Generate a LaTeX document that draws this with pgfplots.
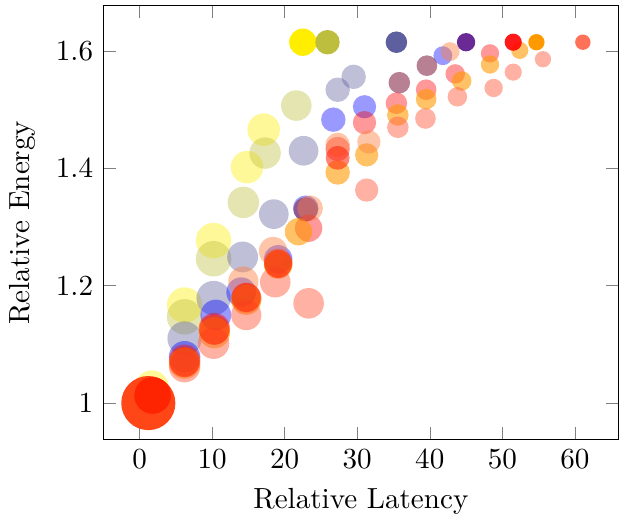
\documentclass[border=0pt]{standalone}
\usepackage{pgfplots}
\pgfplotsset{compat=1.18}
\usepackage{pgfplotstable}

\definecolor{cyel}{HTML}{FFEE00}
\definecolor{coli}{HTML}{BDBD3E}
\definecolor{cslate}{HTML}{5E5F9E}
\definecolor{cblue}{HTML}{0000FF}
\definecolor{cmauve}{HTML}{872D4B}
\definecolor{cpurple}{HTML}{6A2A95}
\definecolor{cred}{HTML}{FF0000}
\definecolor{cstrong}{HTML}{FF2000}
\definecolor{corange}{HTML}{FF9900}
\definecolor{csalmon}{HTML}{FF6347}
\definecolor{cpeach}{HTML}{FF7F3F}
\definecolor{cbig}{HTML}{FF4010}

% x y r  (r = bubble radius in pt)
\pgfplotstableread{
x y r
1.7 1.027 5.8
6.2 1.167 6.1
10.2 1.277 6.1
14.8 1.402 5.6
17.1 1.466 5.6
}\yellowdata
\pgfplotstableread{
x y r
1.7 1.016 5.8
6.2 1.147 6.1
10.2 1.246 6.1
14.3 1.342 5.4
17.3 1.426 5.4
21.6 1.507 5.25
}\olivedata
\pgfplotstableread{
x y r
1.5 1.008 5.8
6.2 1.110 5.9
10.2 1.179 5.9
14.2 1.249 5.3
18.5 1.322 5.1
22.6 1.430 5.1
27.3 1.534 4.2
29.5 1.556 4.2
}\slatedata
\pgfplotstableread{
x y r
6.2 1.079 5.4
10.5 1.150 5.3
14.0 1.189 5.1
19.1 1.245 4.9
22.9 1.332 4.4
26.7 1.483 4.2
31.0 1.505 4.0
41.8 1.592 3.25
}\bluedata
\pgfplotstableread{
x y r
22.9 1.330 4.2
35.8 1.546 3.7
39.6 1.575 3.55
}\mauvedata
\pgfplotstableread{
x y r
6.2 1.073 5.4
10.3 1.127 5.4
14.7 1.179 5.2
19.1 1.239 4.9
23.3 1.298 4.7
27.3 1.433 4.2
31.0 1.478 4.0
35.4 1.511 3.7
39.5 1.534 3.55
43.5 1.561 3.35
48.3 1.596 3.15
}\reddata
\pgfplotstableread{
x y r
6.2 1.070 5.2
10.3 1.125 5.2
14.7 1.180 5.0
19.1 1.237 4.8
27.3 1.418 4.1
}\strongdata
\pgfplotstableread{
x y r
6.2 1.068 5.4
10.3 1.120 5.4
14.7 1.176 5.2
19.1 1.236 4.9
21.9 1.292 4.7
27.3 1.393 4.2
31.3 1.423 4.0
35.6 1.491 3.7
39.5 1.518 3.55
44.4 1.549 3.35
48.3 1.577 3.15
52.4 1.601 2.95
}\orangedata
\pgfplotstableread{
x y r
6.2 1.062 5.4
10.2 1.102 5.4
14.7 1.150 5.2
18.7 1.206 5.25
23.3 1.170 5.25
31.3 1.363 4.0
35.6 1.470 3.7
39.4 1.485 3.55
43.8 1.522 3.35
48.8 1.537 3.15
51.5 1.564 2.95
55.6 1.586 2.8
}\salmondata
\pgfplotstableread{
x y r
14.3 1.207 5.2
18.4 1.259 4.9
23.5 1.332 4.4
27.3 1.440 4.2
31.6 1.445 4.0
42.8 1.599 3.25
}\peachdata

% bubble plot: fill colour and opacity per series, radius per point
\pgfplotsset{
  bubble/.style 2 args={
    scatter, only marks, mark=*,
    visualization depends on={\thisrow{r} \as \rad},
    scatter/@pre marker code/.code={%
      \scope[mark size=\rad pt, fill=#1, draw=#1, fill opacity=#2, draw opacity=0]%
    },
    scatter/@post marker code/.code={\endscope},
  },
}

\begin{document}
\begin{tikzpicture}
\begin{axis}[
  scale only axis,
  width=177pt, height=149pt,
  xmin=-5, xmax=66,
  ymin=0.938, ymax=1.677,
  xtick={0,10,...,60},
  ytick={1,1.2,1.4,1.6},
  xlabel={Relative Latency},
  ylabel={Relative Energy},
]
\addplot[bubble={cyel}{0.4}] table {\yellowdata};
\addplot[bubble={coli}{0.4}] table {\olivedata};
\addplot[bubble={cslate}{0.4}] table {\slatedata};
\addplot[bubble={cblue}{0.4}] table {\bluedata};
\addplot[bubble={cmauve}{0.6}] table {\mauvedata};
\addplot[bubble={cred}{0.4}] table {\reddata};
\addplot[bubble={corange}{0.6}] table {\orangedata};
\addplot[bubble={csalmon}{0.5}] table {\salmondata};
\addplot[bubble={cpeach}{0.45}] table {\peachdata};
\addplot[bubble={cstrong}{0.55}] table {\strongdata};
% large bubbles at the origin
\addplot[bubble={cbig}{0.97}] table {
x y r
1.2 1.000 9.3
};
\addplot[bubble={cstrong}{0.9}] table {
x y r
1.8 1.013 6.3
};
% opaque top row
\addplot[bubble={cyel}{1}] table {
x y r
22.5 1.615 4.7
};
\addplot[bubble={coli}{1}] table {
x y r
25.9 1.615 4.2
};
\addplot[bubble={cslate}{1}] table {
x y r
35.4 1.615 3.7
};
\addplot[bubble={cpurple}{1}] table {
x y r
45.0 1.615 3.15
};
\addplot[bubble={cred}{0.9}] table {
x y r
51.5 1.615 2.95
};
\addplot[bubble={corange}{1}] table {
x y r
54.7 1.615 2.8
};
\addplot[bubble={csalmon}{0.9}] table {
x y r
61.1 1.615 2.65
};
\end{axis}
% a little room above the axis box
\path (current axis.north) ++(0,2pt);
\end{tikzpicture}
\end{document}
